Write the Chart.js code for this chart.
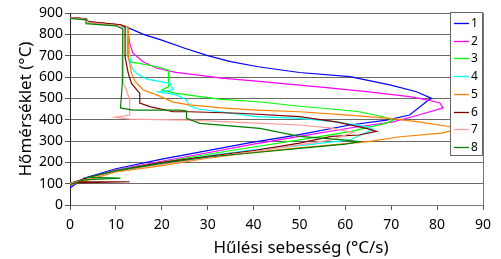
<!DOCTYPE html>
<html>
<head>
<meta charset="utf-8">
<script src="https://cdn.jsdelivr.net/npm/chart.js@4/dist/chart.umd.min.js"></script>
<style>
  html, body { margin: 0; padding: 0; background: #fff; }
  #wrap { width: 501px; height: 259px; }
</style>
</head>
<body>
<div id="wrap"><canvas id="chart"></canvas></div>
<script>
    // cooling rate (°C/s) vs temperature (°C)
    const labels = ["1", "2", "3", "4", "5", "6", "7", "8"]
    const colors = ["#0000ff", "#ff00ff", "#00ff00", "#00ffff", "#ff8000", "#800000", "#ff9999", "#008000"]

    const rate1 = [0, 3.5, 4, 11, 13, 16, 20, 25, 30, 35, 41, 50, 61, 69.7, 75.5, 78.8, 78, 74, 69, 61, 50, 39, 30, 20, 10, 3, 0]
    const temp1 = [880, 872, 858, 843, 828, 800, 773, 735, 700, 672, 648, 621, 602, 563, 531, 500, 490, 422, 398, 375, 330, 291, 255, 215, 170, 125, 80]

    const rate2 = [0, 3.5, 4, 11, 12.5, 13, 13.7, 16, 19, 23, 28, 33, 40, 50, 57, 64.6, 74, 78, 80.6, 81.3, 76, 70.4, 61, 50, 40, 30, 20, 10, 3, 0]
    const temp2 = [880, 872, 858, 845, 835, 760, 712, 670, 641, 622, 609, 595, 582, 562, 548, 531, 508, 492, 478, 455, 422, 390, 361, 322, 285, 245, 205, 165, 120, 90]

    const rate3 = [0, 3.5, 4, 11, 12.5, 12.5, 13, 19, 21.4, 21.5, 20, 23.2, 28.3, 33, 41, 50, 57, 63, 68, 70.4, 69, 61, 50, 40, 30, 20, 10, 3, 0]
    const temp3 = [878, 870, 855, 843, 830, 700, 672, 648, 633, 555, 539, 523, 508, 495, 484, 463, 450, 437, 415, 398, 384, 344, 305, 272, 238, 200, 163, 122, 100]

    const rate4 = [0, 3.5, 4, 11, 12.5, 13, 13.5, 14.5, 16.7, 21.8, 22.5, 19.2, 23.2, 25.4, 26, 28, 40.7, 50, 58, 64.6, 66, 61, 50, 40, 30, 20, 10, 3, 0]
    const temp4 = [878, 870, 855, 843, 830, 700, 640, 617, 590, 570, 540, 531, 516, 492, 465, 450, 414, 406, 390, 367, 355, 305, 278, 258, 230, 195, 160, 115, 95]

    const rate5 = [0, 3.5, 4, 11, 12.7, 12.7, 13.4, 14.2, 16, 18.9, 22.5, 26, 33, 40.7, 50, 60, 69.7, 76, 82.8, 84, 81, 72, 65, 50, 39, 30, 20, 10, 3, 0]
    const temp5 = [880, 872, 857, 845, 835, 700, 617, 578, 539, 516, 482, 469, 455, 445, 437, 422, 406, 390, 367, 352, 337, 320, 297, 268, 244, 220, 185, 155, 112, 95]

    const rate6 = [0, 3.5, 4, 11, 12, 12, 12.7, 13.4, 15.2, 15.2, 17.4, 22.5, 26, 37, 50, 58, 64.6, 66.8, 63, 57, 50, 40, 30, 20, 10, 4, 1, 13, 1, 0]
    const temp6 = [880, 873, 860, 845, 835, 695, 617, 570, 523, 478, 461, 437, 437, 430, 414, 390, 359, 345, 328, 322, 290, 255, 228, 200, 160, 128, 108, 109, 104, 100]

    const rate7 = [0, 3.5, 4, 11, 11.5, 11.3, 12.3, 13, 13, 9.8, 13, 26, 40.7, 50, 57, 61.7, 57, 50, 40, 30, 20, 10, 3, 0]
    const temp7 = [878, 870, 855, 840, 830, 586, 539, 492, 422, 412, 403, 398, 384, 375, 360, 340, 305, 282, 250, 222, 190, 158, 118, 100]

    const rate8 = [0, 3.5, 3.5, 10, 11.5, 11.5, 11, 13.7, 24, 25.4, 25.4, 28.3, 41.4, 50, 59.5, 63, 60, 50, 40, 30, 20, 10, 4, 11, 3, 0]
    const temp8 = [875, 868, 850, 840, 825, 600, 455, 445, 445, 440, 406, 383, 359, 322, 305, 297, 285, 265, 245, 225, 195, 160, 130, 126, 118, 95]

    const rates = [rate1, rate2, rate3, rate4, rate5, rate6, rate7, rate8]
    const temps = [temp1, temp2, temp3, temp4, temp5, temp6, temp7, temp8]

    const xTicks = [0, 10, 20, 30, 40, 50, 60, 70, 80, 90]
    const yTicks = [0, 100, 200, 300, 400, 500, 600, 700, 800, 900]

    const xTitle = "Hűlési sebesség (°C/s)"
    const yTitle = "Hőmérséklet (°C)"

    const FONT = "'Noto Sans', 'DejaVu Sans', sans-serif"

    const datasets = labels.map((label, i) => ({
        label: label,
        data: rates[i].map((r, j) => ({ x: r, y: temps[i][j] })),
        borderColor: colors[i],
        backgroundColor: colors[i],
        borderWidth: 1.2,
        showLine: true,
        pointRadius: 0,
        tension: 0,
        order: labels.length - i
    }))

    // legend box sits inside the plot, top right
    const boxLegend = {
        id: "boxLegend",
        afterDraw(chart) {
            const ctx = chart.ctx
            const right = chart.chartArea.right
            const left = right - 33
            const top = 12
            const bottom = 155
            ctx.save()
            ctx.fillStyle = "#fff"
            ctx.fillRect(left, top, right - left, bottom - top)
            ctx.strokeStyle = "#666"
            ctx.lineWidth = 1
            ctx.strokeRect(left + 0.5, top + 0.5, right - left - 1, bottom - top)
            ctx.font = "12px " + FONT
            ctx.textBaseline = "middle"
            labels.forEach((label, i) => {
                const y = Math.round(23 + i * 17.7) + 0.5
                ctx.beginPath()
                ctx.strokeStyle = colors[i]
                ctx.lineWidth = 1.3
                ctx.moveTo(left + 4, y)
                ctx.lineTo(left + 19, y)
                ctx.stroke()
                ctx.fillStyle = "#000"
                ctx.fillText(label, left + 21, y)
            })
            ctx.restore()
        }
    }

    // x title is off-centre in the original, so draw it here
    const xTitlePlugin = {
        id: "xTitlePlugin",
        afterDraw(chart) {
            const ctx = chart.ctx
            ctx.save()
            ctx.font = "17px " + FONT
            ctx.fillStyle = "#000"
            ctx.textAlign = "center"
            ctx.textBaseline = "alphabetic"
            ctx.fillText(xTitle, 301, 253)
            ctx.restore()
        }
    }

    new Chart(document.querySelector("#chart"), {
        type: "scatter",
        data: { datasets: datasets },
        options: {
            responsive: true,
            maintainAspectRatio: false,
            animation: false,
            layout: { padding: { left: 0, right: 18, top: 13, bottom: 0 } },
            plugins: {
                legend: { display: false },
                tooltip: { enabled: false }
            },
            scales: {
                x: {
                    type: "linear",
                    min: 0,
                    max: 90,
                    afterBuildTicks: (scale) => { scale.ticks = xTicks.map(v => ({ value: v })) },
                    afterFit: (scale) => { scale.height = 54 },
                    grid: {
                        color: (c) => c.tick && c.tick.value === 90 ? "#777" : "rgba(0,0,0,0)",
                        tickColor: "#555",
                        tickLength: 5
                    },
                    border: { color: "#777" },
                    ticks: {
                        color: "#000",
                        padding: 7,
                        maxRotation: 0,
                        font: { family: FONT, size: 14 }
                    }
                },
                y: {
                    type: "linear",
                    min: 0,
                    max: 900,
                    afterBuildTicks: (scale) => { scale.ticks = yTicks.map(v => ({ value: v })) },
                    afterFit: (scale) => { scale.width = 70 },
                    grid: {
                        color: "#6a6a6a",
                        tickColor: "#555",
                        tickLength: 5
                    },
                    border: { color: "#222" },
                    ticks: {
                        color: "#000",
                        padding: 2,
                        font: { family: FONT, size: 14 }
                    },
                    title: {
                        display: true,
                        text: yTitle,
                        color: "#000",
                        padding: { top: 16, bottom: 0 },
                        font: { family: FONT, size: 17 }
                    }
                }
            }
        },
        plugins: [boxLegend, xTitlePlugin]
    })
</script>
</body>
</html>
